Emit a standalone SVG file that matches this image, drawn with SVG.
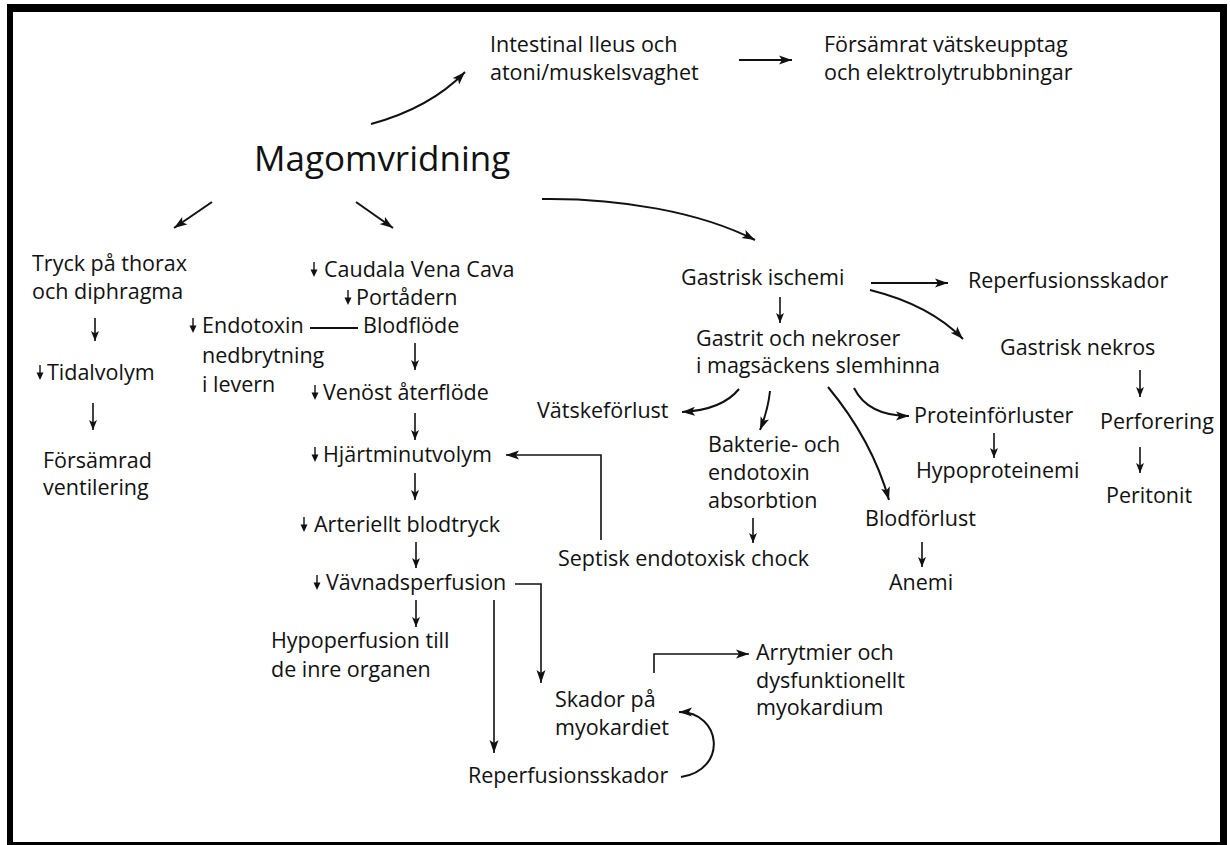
<svg xmlns="http://www.w3.org/2000/svg" xmlns:xlink="http://www.w3.org/1999/xlink" width="1230" height="845" viewBox="0 0 1230 845">
<style>
text{font-family:"Open Sans","Noto Sans","DejaVu Sans",sans-serif;font-size:21.5px;fill:#111}
.big{font-size:35px}
.c{fill:none;stroke:#111;stroke-width:2}
.s{fill:none;stroke:#111;stroke-width:1.6}
</style>
<defs>
<marker id="ah" markerWidth="14" markerHeight="10" refX="13" refY="5" orient="auto" markerUnits="userSpaceOnUse"><path d="M0,0.5 L13,5 L0,9.5 L3,5 z" fill="#111"/></marker>
<marker id="as" markerWidth="11" markerHeight="9" refX="10" refY="4.5" orient="auto" markerUnits="userSpaceOnUse"><path d="M0,0.5 L10,4.5 L0,8.5 L2.5,4.5 z" fill="#111"/></marker>
<g id="da"><path d="M0,-15 V-6" stroke="#111" stroke-width="1.4"/><path d="M-3.5,-7.5 L3.5,-7.5 L0,0 z" fill="#111"/></g>
</defs>
<rect x="7" y="4" width="1220" height="841" fill="#000"/>
<rect x="13" y="12" width="1207" height="830" fill="#fff"/>

<g id="connectors">
<path class="c" d="M371,124 Q430,108 465,72" marker-end="url(#ah)"/>
<path class="c" d="M739,60 H792" marker-end="url(#ah)"/>
<path class="c" d="M212,202 L174,228" marker-end="url(#ah)"/>
<path class="c" d="M356,202 L393,228" marker-end="url(#ah)"/>
<path class="c" d="M542,199 C620,198 700,212 755,240" marker-end="url(#ah)"/>
<path class="s" d="M95,318 V341" marker-end="url(#as)"/>
<path class="s" d="M93,403 V430" marker-end="url(#as)"/>
<path class="c" d="M310,328 H358"/>
<path class="s" d="M415,343 V370" marker-end="url(#as)"/>
<path class="s" d="M415,413 V440" marker-end="url(#as)"/>
<path class="s" d="M415,473 V500" marker-end="url(#as)"/>
<path class="s" d="M416,542 V568" marker-end="url(#as)"/>
<path class="s" d="M416,600 V627" marker-end="url(#as)"/>
<path class="s" d="M601,540 V455 H506" marker-end="url(#ah)"/>
<path class="s" d="M515,584 H541 V683" marker-end="url(#ah)"/>
<path class="s" d="M494,600 V753" marker-end="url(#ah)"/>
<path class="s" d="M654,673 V654 H749" marker-end="url(#ah)"/>
<path class="c" d="M681,777 C728,770 722,712 679,712" marker-end="url(#ah)"/>
<path class="s" d="M780,297 V323" marker-end="url(#as)"/>
<path class="c" d="M871,283 H948" marker-end="url(#ah)"/>
<path class="c" d="M870,290 Q930,305 963,339" marker-end="url(#ah)"/>
<path class="s" d="M1140,370 V397" marker-end="url(#as)"/>
<path class="s" d="M1140,447 V473" marker-end="url(#as)"/>
<path class="c" d="M739,389 Q722,410 682,412" marker-end="url(#ah)"/>
<path class="c" d="M770,391 Q768,410 760,430" marker-end="url(#ah)"/>
<path class="c" d="M828,387 Q872,440 889,500" marker-end="url(#ah)"/>
<path class="c" d="M854,388 Q868,416 909,416" marker-end="url(#ah)"/>
<path class="s" d="M994,433 V458" marker-end="url(#as)"/>
<path class="s" d="M753,518 V543" marker-end="url(#as)"/>
<path class="s" d="M922,542 V567" marker-end="url(#as)"/>
</g>

<g id="n-ileus"><text x="490" y="52">Intestinal Ileus och</text><text x="490" y="80">atoni/muskelsvaghet</text></g>
<g id="n-vatskeupptag"><text x="824" y="52">Försämrat vätskeupptag</text><text x="824" y="80">och elektrolytrubbningar</text></g>
<g id="n-magomvridning"><text class="big" x="254" y="171">Magomvridning</text></g>
<g id="n-tryck"><text x="32" y="271">Tryck på thorax</text><text x="32" y="299">och diphragma</text></g>
<g id="n-tidalvolym"><use href="#da" x="40" y="380"/><text x="47" y="380">Tidalvolym</text></g>
<g id="n-ventilering"><text x="43" y="468">Försämrad</text><text x="43" y="495">ventilering</text></g>
<g id="n-caudala"><use href="#da" x="314" y="277"/><text x="324" y="277">Caudala Vena Cava</text></g>
<g id="n-portadern"><use href="#da" x="348" y="305"/><text x="356" y="305">Portådern</text><text x="363" y="333">Blodflöde</text></g>
<g id="n-endotoxin"><use href="#da" x="193" y="333"/><text x="202" y="333">Endotoxin</text><text x="202" y="363">nedbrytning</text><text x="202" y="392">i levern</text></g>
<g id="n-venost"><use href="#da" x="315" y="400"/><text x="323" y="400">Venöst återflöde</text></g>
<g id="n-hjartminutvolym"><use href="#da" x="315" y="462"/><text x="323" y="462">Hjärtminutvolym</text></g>
<g id="n-arteriellt"><use href="#da" x="304" y="532"/><text x="314" y="532">Arteriellt blodtryck</text></g>
<g id="n-vavnad"><use href="#da" x="317" y="590"/><text x="326" y="590">Vävnadsperfusion</text></g>
<g id="n-hypoperfusion"><text x="271" y="648">Hypoperfusion till</text><text x="271" y="677">de inre organen</text></g>
<g id="n-skador"><text x="555" y="707">Skador på</text><text x="555" y="735">myokardiet</text></g>
<g id="n-reperf2"><text x="468" y="783">Reperfusionsskador</text></g>
<g id="n-arrytmier"><text x="756" y="660">Arrytmier och</text><text x="756" y="688">dysfunktionellt</text><text x="756" y="715">myokardium</text></g>
<g id="n-septisk"><text x="558" y="566">Septisk endotoxisk chock</text></g>
<g id="n-ischemi"><text x="681" y="285">Gastrisk ischemi</text></g>
<g id="n-reperf1"><text x="968" y="288">Reperfusionsskador</text></g>
<g id="n-gastrit"><text x="696" y="346">Gastrit och nekroser</text><text x="696" y="373">i magsäckens slemhinna</text></g>
<g id="n-nekros"><text x="1000" y="355">Gastrisk nekros</text></g>
<g id="n-perforering"><text x="1100" y="429">Perforering</text></g>
<g id="n-peritonit"><text x="1106" y="503">Peritonit</text></g>
<g id="n-vatskeforlust"><text x="537" y="418">Vätskeförlust</text></g>
<g id="n-bakterie"><text x="708" y="452">Bakterie- och</text><text x="708" y="480">endotoxin</text><text x="708" y="508">absorbtion</text></g>
<g id="n-protein"><text x="914" y="423">Proteinförluster</text></g>
<g id="n-hypoprotein"><text x="916" y="478">Hypoproteinemi</text></g>
<g id="n-blodforlust"><text x="865" y="526">Blodförlust</text></g>
<g id="n-anemi"><text x="889" y="590">Anemi</text></g>
</svg>
